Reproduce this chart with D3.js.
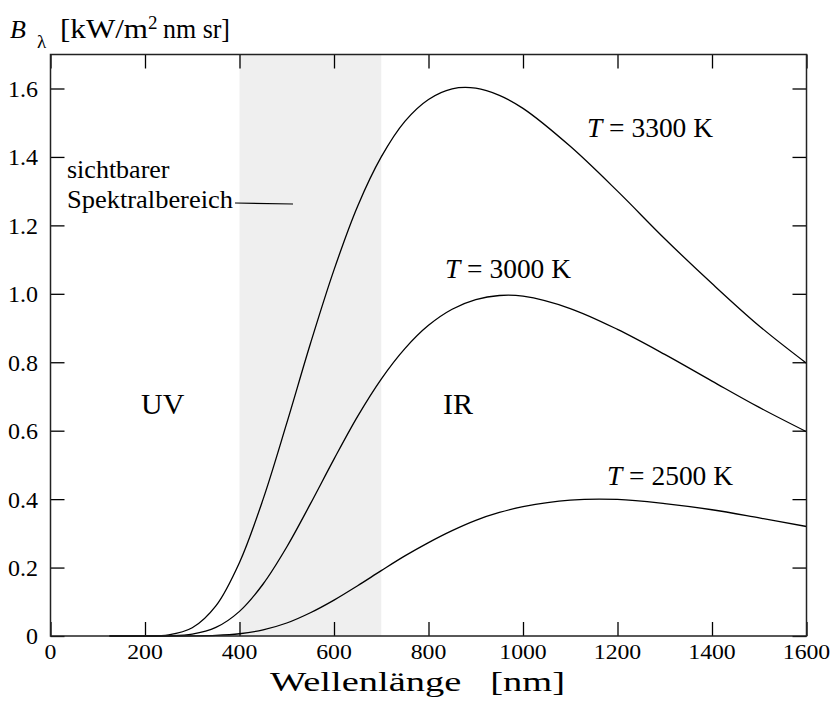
<!DOCTYPE html>
<html>
<head>
<meta charset="utf-8">
<script src="https://cdn.jsdelivr.net/npm/d3@7"></script>
<style>
  body { margin: 0; background: #fff; }
  svg text { font-family: "Liberation Serif", "Times New Roman", serif; fill: #000; }
</style>
</head>
<body>
<svg id="chart" width="830" height="707"></svg>
<script>
// wavelengths in nm
var lambda = [125, 150, 200, 250, 300, 350, 400, 450, 500, 550, 600, 650, 700, 750, 800, 850, 900, 950, 1000, 1100, 1200, 1300, 1400, 1500, 1600];

// spectral radiance, kW/(m^2 nm sr)
var t3300 = [0, 0, 0.0001, 0.0033, 0.024, 0.088, 0.215, 0.400, 0.622, 0.854, 1.070, 1.256, 1.400, 1.504, 1.568, 1.599, 1.601, 1.580, 1.542, 1.431, 1.300, 1.161, 1.030, 0.906, 0.797];
var t3000 = [0, 0, 0, 0.0006, 0.0056, 0.025, 0.072, 0.152, 0.260, 0.386, 0.517, 0.642, 0.751, 0.840, 0.908, 0.955, 0.983, 0.995, 0.993, 0.957, 0.896, 0.823, 0.745, 0.668, 0.597];
var t2500 = [0, 0, 0, 0, 0.0002, 0.0016, 0.0066, 0.018, 0.038, 0.068, 0.105, 0.147, 0.191, 0.234, 0.273, 0.308, 0.338, 0.361, 0.378, 0.397, 0.399, 0.387, 0.369, 0.345, 0.320];

var xTicks = [0, 200, 400, 600, 800, 1000, 1200, 1400, 1600];
var yTicks = [0, 0.2, 0.4, 0.6, 0.8, 1.0, 1.2, 1.4, 1.6];
var visibleBand = [400, 700];

var svg = d3.select("#chart");
// plot frame (don't call it "top", that's window.top)
var fL = 50.5, fR = 806.5, fT = 54.5, fB = 636;

var x = d3.scaleLinear().domain([0, 1600]).range([fL, fR]);
var y = d3.scaleLinear().domain([0, 1.6]).range([fB, 88.5]);

// visible range shading
svg.append("rect")
    .attr("x", x(visibleBand[0]))
    .attr("y", fT)
    .attr("width", x(visibleBand[1]) - x(visibleBand[0]))
    .attr("height", fB - fT)
    .attr("fill", "#efefef");

// curves
var line = d3.line()
    .x(function(d) { return x(d[0]); })
    .y(function(d) { return y(d[1]); })
    .curve(d3.curveCatmullRom.alpha(0.5));

[t3300, t3000, t2500].forEach(function(s) {
  svg.append("path")
      .datum(lambda.map(function(l, i) { return [l, s[i]]; }))
      .attr("d", line)
      .attr("fill", "none")
      .attr("stroke", "#000")
      .attr("stroke-width", 1.3);
});

// ticks (inside, on all four sides)
var tl = 14;
function styleAxis(g) {
  g.select(".domain").remove();
  g.selectAll("line").attr("stroke", "#000").attr("stroke-width", 1.3);
}
svg.append("g").attr("transform", "translate(0," + fB + ")")
    .call(d3.axisBottom(x).tickValues(xTicks).tickSize(-tl).tickFormat("")).call(styleAxis);
svg.append("g").attr("transform", "translate(0," + fT + ")")
    .call(d3.axisTop(x).tickValues(xTicks).tickSize(-tl).tickFormat("")).call(styleAxis);
svg.append("g").attr("transform", "translate(" + fL + ",0)")
    .call(d3.axisLeft(y).tickValues(yTicks).tickSize(-tl).tickFormat("")).call(styleAxis);
svg.append("g").attr("transform", "translate(" + fR + ",0)")
    .call(d3.axisRight(y).tickValues(yTicks).tickSize(-tl).tickFormat("")).call(styleAxis);

// frame
svg.append("rect")
    .attr("x", fL).attr("y", fT)
    .attr("width", fR - fL).attr("height", fB - fT)
    .attr("fill", "none").attr("stroke", "#222").attr("stroke-width", 1.5);

// tick labels
svg.selectAll(".xl").data(xTicks).enter().append("text")
    .attr("transform", function(d) { return "translate(" + x(d) + ",659) scale(1.08,1)"; })
    .attr("text-anchor", "middle")
    .attr("font-size", 22)
    .text(function(d) { return d; });

svg.selectAll(".yl").data(yTicks).enter().append("text")
    .attr("x", 38)
    .attr("y", function(d) { return y(d); })
    .attr("dy", "0.35em")
    .attr("text-anchor", "end")
    .attr("font-size", 24)
    .text(function(d) { return d === 0 ? "0" : d3.format(".1f")(d); });

// axis titles
svg.append("text")
    .attr("x", 270).attr("y", 691)
    .attr("font-size", 28)
    .attr("xml:space", "preserve")
    .attr("textLength", 295)
    .attr("lengthAdjust", "spacingAndGlyphs")
    .text("Wellenlänge   [nm]");

var yt = svg.append("text").attr("x", 10).attr("y", 38).attr("font-size", 26);
yt.append("tspan").attr("font-style", "italic").text("B");
yt.append("tspan").attr("x", 37).attr("y", 48).attr("font-size", 19).text("λ");
svg.append("text").attr("x", 60).attr("y", 38).attr("font-size", 27)
    .attr("textLength", 88).attr("lengthAdjust", "spacingAndGlyphs").text("[kW/m");
svg.append("text").attr("x", 148).attr("y", 29).attr("font-size", 19).text("2");
svg.append("text").attr("x", 163).attr("y", 38).attr("font-size", 27)
    .attr("textLength", 67).attr("lengthAdjust", "spacingAndGlyphs").text("nm sr]");

// curve labels
var tLabels = [
  {t: "3300", x: 587, y: 137},
  {t: "3000", x: 445, y: 278},
  {t: "2500", x: 607, y: 485}
];
tLabels.forEach(function(d) {
  var t = svg.append("text").attr("x", d.x).attr("y", d.y).attr("font-size", 27)
      .attr("textLength", 126).attr("lengthAdjust", "spacingAndGlyphs");
  t.append("tspan").attr("font-style", "italic").text("T");
  t.append("tspan").text(" = " + d.t + " K");
});

svg.append("text").attr("x", 141).attr("y", 414).attr("font-size", 30).text("UV");
svg.append("text").attr("x", 443).attr("y", 414).attr("font-size", 30).text("IR");

svg.append("text").attr("x", 67).attr("y", 178).attr("font-size", 26).text("sichtbarer");
svg.append("text").attr("x", 67).attr("y", 208).attr("font-size", 26)
    .attr("textLength", 166).attr("lengthAdjust", "spacingAndGlyphs").text("Spektralbereich");
svg.append("line")
    .attr("x1", 235).attr("x2", 293).attr("y1", 203).attr("y2", 204)
    .attr("stroke", "#000").attr("stroke-width", 1.2);
</script>
</body>
</html>
